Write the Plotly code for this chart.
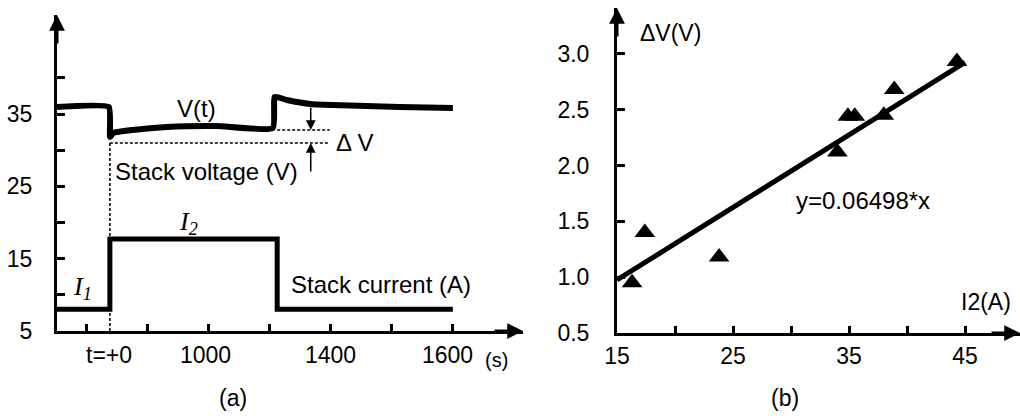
import plotly.graph_objects as go

# ---------------- data: panel (a) ----------------
# time axis in tick-interval units (tick marks at 0..6)
time_ticks = [0, 1, 2, 3, 4, 5, 6]
time_label_pos = [0.36, 1.95, 4.0, 5.92]
time_labels = ["t=+0", "1000", "1400", "1600"]

volt_t = [-0.49, 0.36, 0.38, 0.43, 0.75, 1.31, 2.13, 3.05, 3.08, 3.28, 3.66, 4.03, 5.13, 6.0]
volt_v = [35.98, 35.98, 31.83, 32.39, 32.80, 33.22, 33.35, 33.08, 37.37, 36.95, 36.40, 36.26, 35.98, 35.84]

curr_t = [-0.49, 0.377, 0.377, 3.12, 3.12, 6.0]
curr_i = [8.0, 8.0, 17.72, 17.72, 8.0, 8.0]

ya_ticks = [5, 10, 15, 20, 25, 30, 35, 40]
ya_labels = ["5", "", "15", "", "25", "", "35", ""]

dv_upper = 32.8
dv_lower = 31.0
t_step = 0.377
t_back = 3.12
t_dash_end = 3.98
t_arrow = 3.67

# ---------------- data: panel (b) ----------------
i2 = [16.3, 17.4, 23.8, 34.0, 34.9, 35.5, 38.0, 38.9, 44.3]
dv = [0.95, 1.40, 1.18, 2.12, 2.44, 2.44, 2.45, 2.68, 2.93]
slope = 0.06498
fit_x = [15, 45]
fit_y = [slope * v for v in fit_x]

xb_ticks = [15, 20, 25, 30, 35, 40, 45]
xb_labels = ["15", "", "25", "", "35", "", "45"]
yb_ticks = [0.5, 1.0, 1.5, 2.0, 2.5, 3.0]
yb_labels = ["0.5", "1.0", "1.5", "2.0", "2.5", "3.0"]

# ---------------- layout geometry (pixels) ----------------
W, H = 1020, 419
def px(x):
    return x / W
def py(y):
    return 1 - y / H

FONT = "Arial, 'Liberation Sans', sans-serif"
SERIF = "'Liberation Serif', 'Times New Roman', serif"
BLACK = "#000000"

fig = go.Figure()

fig.add_trace(go.Scatter(x=curr_t, y=curr_i, mode="lines",
                         line=dict(color=BLACK, width=5), xaxis="x", yaxis="y",
                         showlegend=False, hoverinfo="skip"))
fig.add_trace(go.Scatter(x=volt_t, y=volt_v, mode="lines",
                         line=dict(color=BLACK, width=6, shape="spline", smoothing=0.4),
                         xaxis="x", yaxis="y", showlegend=False, hoverinfo="skip"))

fig.add_trace(go.Scatter(x=fit_x, y=fit_y, mode="lines",
                         line=dict(color=BLACK, width=5), xaxis="x2", yaxis="y2",
                         showlegend=False, hoverinfo="skip"))
fig.add_trace(go.Scatter(x=i2, y=dv, mode="markers",
                         marker=dict(symbol="triangle-up", size=18, color=BLACK),
                         xaxis="x2", yaxis="y2", showlegend=False, hoverinfo="skip"))

tickfont = dict(family=FONT, size=23, color=BLACK)

xa_range = [-0.49, 7.15]
fig.update_layout(
    width=W, height=H, autosize=False,
    margin=dict(l=0, r=0, t=0, b=0, pad=0, autoexpand=False),
    paper_bgcolor="white", plot_bgcolor="white",
    xaxis=dict(domain=[px(57), px(523)], range=xa_range, anchor="y",
               tickvals=time_ticks, ticktext=[""] * len(time_ticks),
               ticks="inside", ticklen=7, tickwidth=3, tickcolor=BLACK,
               showline=True, linewidth=3, linecolor=BLACK, automargin=False,
               showgrid=False, zeroline=False, fixedrange=True),
    yaxis=dict(domain=[py(331), py(15)], range=[5, 48.7], anchor="x",
               tickvals=ya_ticks, ticktext=ya_labels,
               ticks="inside", ticklen=8, tickwidth=3, tickcolor=BLACK,
               tickfont=tickfont, ticklabelstandoff=17, automargin=False,
               showline=True, linewidth=3, linecolor=BLACK,
               showgrid=False, zeroline=False, fixedrange=True),
    xaxis2=dict(domain=[px(617), 1.0], range=[15, 49.74], anchor="y2",
                tickvals=xb_ticks, ticktext=xb_labels,
                ticks="inside", ticklen=7, tickwidth=3, tickcolor=BLACK,
                tickfont=tickfont, ticklabelstandoff=0, automargin=False,
                showline=True, linewidth=3, linecolor=BLACK,
                showgrid=False, zeroline=False, fixedrange=True),
    yaxis2=dict(domain=[py(333), py(8)], range=[0.5, 3.41], anchor="x2",
                tickvals=yb_ticks, ticktext=yb_labels,
                ticks="inside", ticklen=8, tickwidth=3, tickcolor=BLACK,
                tickfont=tickfont, ticklabelstandoff=20, automargin=False,
                showline=True, linewidth=3, linecolor=BLACK,
                showgrid=False, zeroline=False, fixedrange=True),
)

# dashed guide lines
dash = dict(color=BLACK, width=1.5, dash="3px,2px")
fig.add_shape(type="line", xref="x", yref="y", x0=t_back, x1=t_dash_end, y0=dv_upper, y1=dv_upper, line=dash)
fig.add_shape(type="line", xref="x", yref="y", x0=t_step, x1=t_dash_end, y0=dv_lower, y1=dv_lower, line=dash)
fig.add_shape(type="line", xref="x", yref="y", x0=t_step, x1=t_step, y0=5, y1=dv_lower, line=dash)

ann = []
# axis arrowheads
def axis_arrow(xr, yr, x, y, ax, ay):
    ann.append(dict(xref=xr, yref=yr, x=x, y=y, ax=ax, ay=ay, axref="pixel", ayref="pixel",
                    showarrow=True, arrowhead=2, arrowsize=1.05, arrowwidth=3,
                    arrowcolor=BLACK, text=""))
axis_arrow("x domain", "y domain", 0, 1, 0, 30)
axis_arrow("x domain", "y domain", 1, 0, -30, 0)
axis_arrow("x2 domain", "y2 domain", 0, 1, 0, 30)
axis_arrow("x2 domain", "y2 domain", 1, 0, -30, 0)

# delta-V arrows
ann.append(dict(xref="x", yref="y", x=t_arrow, y=dv_upper, axref="x", ayref="y",
                ax=t_arrow, ay=36.1, showarrow=True, arrowhead=2, arrowsize=1.3,
                arrowwidth=1.5, arrowcolor=BLACK, text=""))
ann.append(dict(xref="x", yref="y", x=t_arrow, y=dv_lower, axref="x", ayref="y",
                ax=t_arrow, ay=26.85, showarrow=True, arrowhead=2, arrowsize=1.3,
                arrowwidth=1.5, arrowcolor=BLACK, text=""))

def label(xr, yr, x, y, text, size=24, anchor="left", family=FONT, yanchor="middle"):
    ann.append(dict(xref=xr, yref=yr, x=x, y=y, text=text, showarrow=False,
                    xanchor=anchor, yanchor=yanchor,
                    font=dict(family=family, size=size, color=BLACK)))

# time-axis labels of panel (a)
for pos, txt in zip(time_label_pos, time_labels):
    label("x", "paper", pos, py(355), txt, size=23, anchor="center")

label("x", "y", 1.79, 35.8, "V(t)", anchor="center")
label("x", "y", 4.05, 31.1, "Δ V")
label("x", "y", 0.42, 27.1, "Stack voltage (V)")
label("x", "y", 3.32, 11.4, "Stack current (A)")
label("x", "y", 1.66, 20.0, "<i>I<sub>2</sub></i>", size=26, anchor="center", family=SERIF)
label("x", "y", -0.07, 10.9, "<i>I<sub>1</sub></i>", size=26, anchor="center", family=SERIF)
label("paper", "paper", px(496), py(360), "(s)", size=20, anchor="center")
label("paper", "paper", px(233), py(398), "(a)", size=23, anchor="center")

label("x2", "y2", 16.8, 3.19, "ΔV(V)", size=23)
label("x2", "y2", 30.3, 1.69, "y=0.06498*x", size=24)
label("x2", "y2", 49.1, 0.78, "I2(A)", size=23, anchor="right")
label("paper", "paper", px(785), py(398), "(b)", size=23, anchor="center")

fig.update_layout(annotations=ann)

fig.write_html("out.html")
